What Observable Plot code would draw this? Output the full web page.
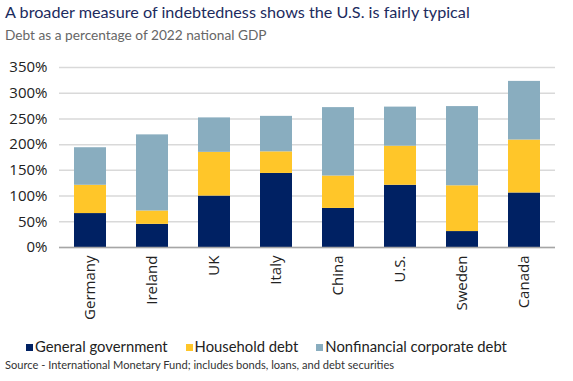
<!DOCTYPE html>
<html><head><meta charset="utf-8">
<script src="https://cdn.jsdelivr.net/npm/d3@7"></script>
<script src="https://cdn.jsdelivr.net/npm/@observablehq/plot@0.6"></script>
<style>
body{margin:0;background:#fff;width:573px;height:381px;overflow:hidden;position:relative;font-family:Lato,"Open Sans",sans-serif}
#title{position:absolute;left:5px;top:2px;font-size:16.2px;color:#1c2b5e;white-space:nowrap}
#subtitle{position:absolute;left:5px;top:26px;font-size:13.7px;color:#666;white-space:nowrap}
#chart{position:absolute;left:0;top:50px}
#legend{position:absolute;left:26px;top:337px;font-size:14.8px;color:#222;display:flex;gap:18px;white-space:nowrap}
#legend span.sw{display:inline-block;width:7px;height:7px;margin-right:2px;vertical-align:1px}
#source{position:absolute;left:5px;top:358px;font-size:11.1px;color:#333;white-space:nowrap}
</style></head>
<body>
<div id="title">A broader measure of indebtedness shows the U.S. is fairly typical</div>
<div id="subtitle">Debt as a percentage of 2022 national GDP</div>
<div id="chart"></div>
<div id="legend"></div>
<div id="source">Source - International Monetary Fund; includes bonds, loans, and debt securities</div>
<script>
const countries = ["Germany","Ireland","UK","Italy","China","U.S.","Sweden","Canada"];
const government = [66,45,100,144,76,121,31,106];
const household  = [55,26,85,42,63,76,89,103];
const corporate  = [73,148,67,69,133,76,154,114];
const seriesNames = ["General government","Household debt","Nonfinancial corporate debt"];
const colors = ["#002163","#ffc629","#89adbf"];
const yTicks = [0,50,100,150,200,250,300,350];

const seriesValues = [government, household, corporate];
const data = [];
countries.forEach((c,i)=>{
  seriesNames.forEach((s,j)=>data.push({country:c, series:s, value:seriesValues[j][i]}));
});

const chart = Plot.plot({
  width: 573, height: 280,
  marginTop: 17, marginBottom: 83, marginLeft: 59, marginRight: 18,
  style: {fontFamily: "'Open Sans', sans-serif", fontSize: "15px", color: "#222", background: "transparent"},
  x: {domain: countries, paddingInner: 0.48, paddingOuter: 0.24, label: null, tickRotate: -90, tickSize: 0, tickPadding: 8},
  y: {domain: [0,350], ticks: yTicks, tickFormat: d => d + "%", label: null, tickSize: 0, tickPadding: 12},
  color: {domain: seriesNames, range: colors},
  marks: [
    Plot.gridY(yTicks, {stroke: "#d9d9d9", strokeOpacity: 1, strokeWidth: 1.5}),
    Plot.barY(data, {x: "country", y: "value", fill: "series", order: seriesNames}),
    Plot.ruleY([0], {stroke: "#a6a6a6", strokeWidth: 1.5})
  ]
});
document.getElementById("chart").appendChild(chart);

const lg = document.getElementById("legend");
seriesNames.forEach((s,i)=>{
  const d = document.createElement("div");
  d.innerHTML = `<span class="sw" style="background:${colors[i]}"></span>${s}`;
  lg.appendChild(d);
});
</script>
</body></html>
